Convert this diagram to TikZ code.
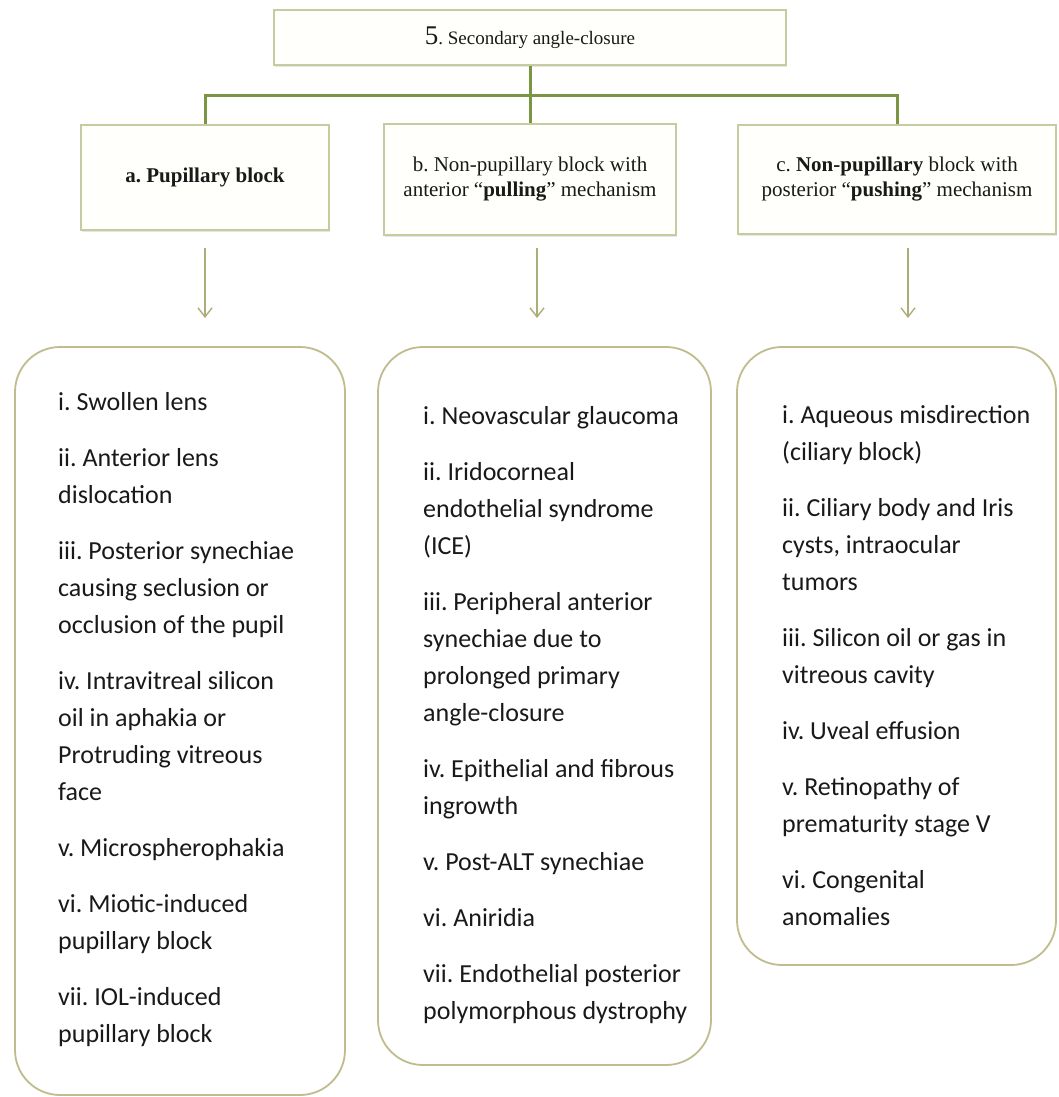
\documentclass[tikz,border=0pt]{standalone}
\usepackage{fontspec}
\setmainfont{Liberation Serif}
\newfontfamily\bodyfont{Carlito}
\usetikzlibrary{arrows.meta,shadows}
\frenchspacing

\definecolor{conngreen}{RGB}{122,150,66}
\definecolor{headedge}{RGB}{200,202,160}
\definecolor{headfill}{RGB}{255,255,251}
\definecolor{arrowcol}{RGB}{172,174,122}
\definecolor{listedge}{RGB}{192,188,142}
\definecolor{ink}{RGB}{25,25,25}

\tikzset{
  headbox/.style={draw=headedge, line width=1.6pt, fill=headfill, inner sep=0pt,
    align=center, text=ink, font=\fontsize{21}{25}\selectfont,
    drop shadow={shadow xshift=1.2pt, shadow yshift=-1.8pt, opacity=.16, fill=black!60}},
  listbox/.style={draw=listedge, line width=1.8pt, rounded corners=45pt, inner sep=0pt, fill=white},
  conn/.style={draw=conngreen, line width=3pt},
  arr/.style={draw=arrowcol, line width=1.4pt, -{Straight Barb[length=9pt,width=14pt,line width=1.4pt]}},
  listtext/.style={anchor=base west, inner sep=0pt, text=ink, font=\bodyfont\fontsize{26}{37}\selectfont}
}
\newcommand{\itemgap}{\\[19pt]}

\begin{document}
\begin{tikzpicture}[x=1pt, y=-1pt]
\useasboundingbox[fill=white] (0,0) rectangle (1059,1097);

% title and the three branches
\node[headbox, minimum width=512pt, minimum height=55pt] (top) at (530,37.5)
  {{\fontsize{27}{27}\selectfont 5}{\fontsize{19}{22}\selectfont . Secondary angle-closure}};
\node[headbox, minimum width=248pt, minimum height=105pt] (a) at (205,177.5)
  {\textbf{a. Pupillary block}};
\node[headbox, minimum width=292pt, minimum height=111pt] (b) at (530,179.5)
  {b. Non-pupillary block with\\anterior ``\textbf{pulling}'' mechanism};
\node[headbox, minimum width=318pt, minimum height=109pt] (c) at (897,179.5)
  {c. \textbf{Non-pupillary} block with\\posterior ``\textbf{pushing}'' mechanism};

% tree connectors
\coordinate (bar) at (530,96);
\draw[conn] (top.south) -- (b.north);
\draw[conn] (a.north) |- (bar) -| (c.north);

% list boxes
\node[listbox, minimum width=330pt, minimum height=748pt] (la) at (180,721) {};
\node[listbox, minimum width=333pt, minimum height=718pt] (lb) at (544.5,706) {};
\node[listbox, minimum width=319pt, minimum height=618pt] (lc) at (896.5,656) {};

% arrows from the branches to their lists
\coordinate (a1) at (205,248);  \coordinate (a2) at (205,318);
\coordinate (b1) at (537,248);  \coordinate (b2) at (537,318);
\coordinate (c1) at (908,248);  \coordinate (c2) at (908,318);
\draw[arr] (a1) -- (a2);
\draw[arr] (b1) -- (b2);
\draw[arr] (c1) -- (c2);

% list contents
\node[listtext] (ta) at (58,410) {\begin{tabular}[t]{@{}l@{}}
i. Swollen lens\itemgap
ii. Anterior lens\\dislocation\itemgap
iii. Posterior synechiae\\causing seclusion or\\occlusion of the pupil\itemgap
iv. Intravitreal silicon\\oil in aphakia or\\Protruding vitreous\\face\itemgap
v. Microspherophakia\itemgap
vi. Miotic-induced\\pupillary block\itemgap
vii. IOL-induced\\pupillary block
\end{tabular}};

\node[listtext] (tb) at (423,424) {\begin{tabular}[t]{@{}l@{}}
i. Neovascular glaucoma\itemgap
ii. Iridocorneal\\endothelial syndrome\\(ICE)\itemgap
iii. Peripheral anterior\\synechiae due to\\prolonged primary\\angle-closure\itemgap
iv. Epithelial and fibrous\\ingrowth\itemgap
v. Post-ALT synechiae\itemgap
vi. Aniridia\itemgap
vii. Endothelial posterior\\polymorphous dystrophy
\end{tabular}};

\node[listtext] (tc) at (782,423) {\begin{tabular}[t]{@{}l@{}}
i. Aqueous misdirection\\(ciliary block)\itemgap
ii. Ciliary body and Iris\\cysts, intraocular\\tumors\itemgap
iii. Silicon oil or gas in\\vitreous cavity\itemgap
iv. Uveal effusion\itemgap
v. Retinopathy of\\prematurity stage V\itemgap
vi. Congenital\\anomalies
\end{tabular}};
\end{tikzpicture}
\end{document}
